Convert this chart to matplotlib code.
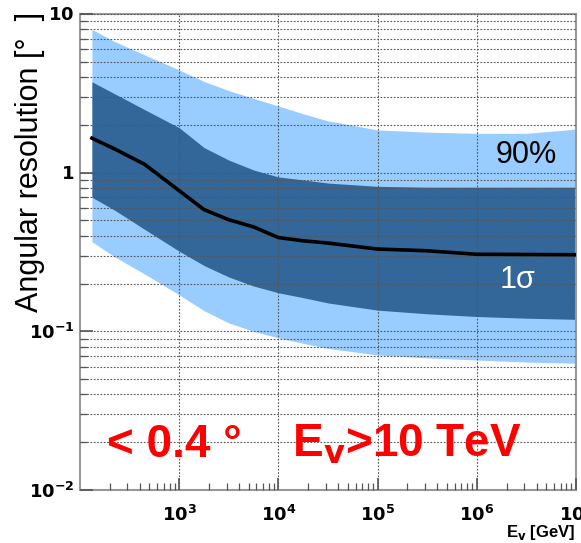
import numpy as np
import matplotlib.pyplot as plt
from matplotlib.ticker import FixedLocator, LogLocator, NullFormatter

plt.rcParams['font.family'] = ['Liberation Sans', 'DejaVu Sans']
plt.rcParams['mathtext.fontset'] = 'custom'
plt.rcParams['mathtext.rm'] = 'Liberation Sans Narrow:bold'
plt.rcParams['mathtext.bf'] = 'Liberation Sans Narrow:bold'
plt.rcParams['mathtext.it'] = 'Liberation Sans Narrow:bold'

# log10 of neutrino energy [GeV]
log_e = [2.12, 2.35, 2.65, 3.0, 3.25, 3.5, 3.75, 4.0, 4.25, 4.5, 5.0, 5.5, 6.0, 6.5, 7.0]
# median angular resolution [deg]
median = [1.65, 1.41, 1.13, 0.77, 0.585, 0.505, 0.455, 0.39, 0.372, 0.36, 0.33, 0.322, 0.306, 0.305, 0.304]
# 1 sigma band
sig_hi = [3.74, 3.14, 2.5, 1.92, 1.44, 1.2, 1.04, 0.94, 0.9, 0.86, 0.82, 0.81, 0.81, 0.81, 0.81]
sig_lo = [0.70, 0.58, 0.44, 0.32, 0.26, 0.22, 0.193, 0.175, 0.163, 0.151, 0.136, 0.129, 0.124, 0.121, 0.119]
# 90% band
p90_hi = [8.0, 6.7, 5.53, 4.44, 3.76, 3.29, 2.94, 2.63, 2.35, 2.12, 1.86, 1.8, 1.77, 1.77, 1.88]
p90_lo = [0.367, 0.295, 0.23, 0.17, 0.135, 0.113, 0.10, 0.091, 0.084, 0.078, 0.071, 0.068, 0.066, 0.064, 0.063]

x_ticks = [1e3, 1e4, 1e5, 1e6, 1e7]
x_labels = [r'$\mathbf{10^{3}}$', r'$\mathbf{10^{4}}$', r'$\mathbf{10^{5}}$',
            r'$\mathbf{10^{6}}$', r'$\mathbf{10^{7}}$']
y_ticks = [1e-2, 1e-1, 1, 10]
y_labels = [r'$\mathbf{10^{-2}}$', r'$\mathbf{10^{-1}}$', r'$\mathbf{1}$', r'$\mathbf{10}$']

E = 10 ** np.array(log_e)

fig = plt.figure(figsize=(5.81, 5.43), dpi=100)
ax = fig.add_axes([80 / 581, 53 / 543, 496 / 581, 476 / 543])

ax.fill_between(E, p90_lo, p90_hi, color='#99ccff', lw=0, zorder=1)
ax.fill_between(E, sig_lo, sig_hi, color='#336699', lw=0, zorder=2)
ax.plot(E, median, color='black', lw=2.6, zorder=3)

ax.set_xscale('log')
ax.set_yscale('log')
ax.set_xlim(1e2, 1e7)
ax.set_ylim(1e-2, 10)

ax.xaxis.set_major_locator(FixedLocator(x_ticks))
ax.set_xticklabels(x_labels)
ax.xaxis.set_minor_locator(LogLocator(base=10, subs=np.arange(2, 10)))
ax.xaxis.set_minor_formatter(NullFormatter())
ax.yaxis.set_major_locator(FixedLocator(y_ticks))
ax.set_yticklabels(y_labels)
ax.yaxis.set_minor_locator(LogLocator(base=10, subs=np.arange(2, 10)))
ax.yaxis.set_minor_formatter(NullFormatter())

ax.set_axisbelow(False)
ax.grid(which='major', axis='both', ls=(0, (1.5, 1.5)), color='#555555', lw=0.8)
ax.grid(which='minor', axis='y', ls=(0, (1.5, 1.5)), color='#555555', lw=0.8)

ax.tick_params(which='both', direction='in', top=False, right=False, color='#555555')
ax.tick_params(which='major', length=9, width=1.2, labelsize=13)
ax.tick_params(axis='x', which='major', pad=11)
ax.tick_params(axis='y', which='major', pad=4)
ax.tick_params(which='minor', length=5, width=0.9)

for s in ax.spines.values():
    s.set_color('#999999')
    s.set_linewidth(1.5)

fig.text(30 / 581, 1 - 162 / 543, 'Angular resolution [°  ]', rotation=90,
         ha='center', va='center', fontsize=22)
fig.text(575 / 581, 1 - 533 / 543, r'E$_{\mathbf{v}}$ [GeV]', ha='right', va='center',
         fontsize=12, family=['Liberation Sans Narrow', 'Liberation Sans'], weight='bold')

fig.text(526 / 581, 1 - 155 / 543, '90%', ha='center', va='center', fontsize=22, color='black')
fig.text(517 / 581, 1 - 280 / 543, '1σ', ha='center', va='center', fontsize=22, color='white')

fig.text(107 / 581, 1 - 457 / 543, '< 0.4 °', ha='left', va='baseline',
         fontsize=33, weight='bold', color='#ff0000')
fig.text(292 / 581, 1 - 457 / 543, r'E$_{\mathbf{v}}$>10 TeV', ha='left', va='baseline',
         fontsize=33, weight='bold', color='#ff0000')

fig.savefig('out.png', dpi=100)
